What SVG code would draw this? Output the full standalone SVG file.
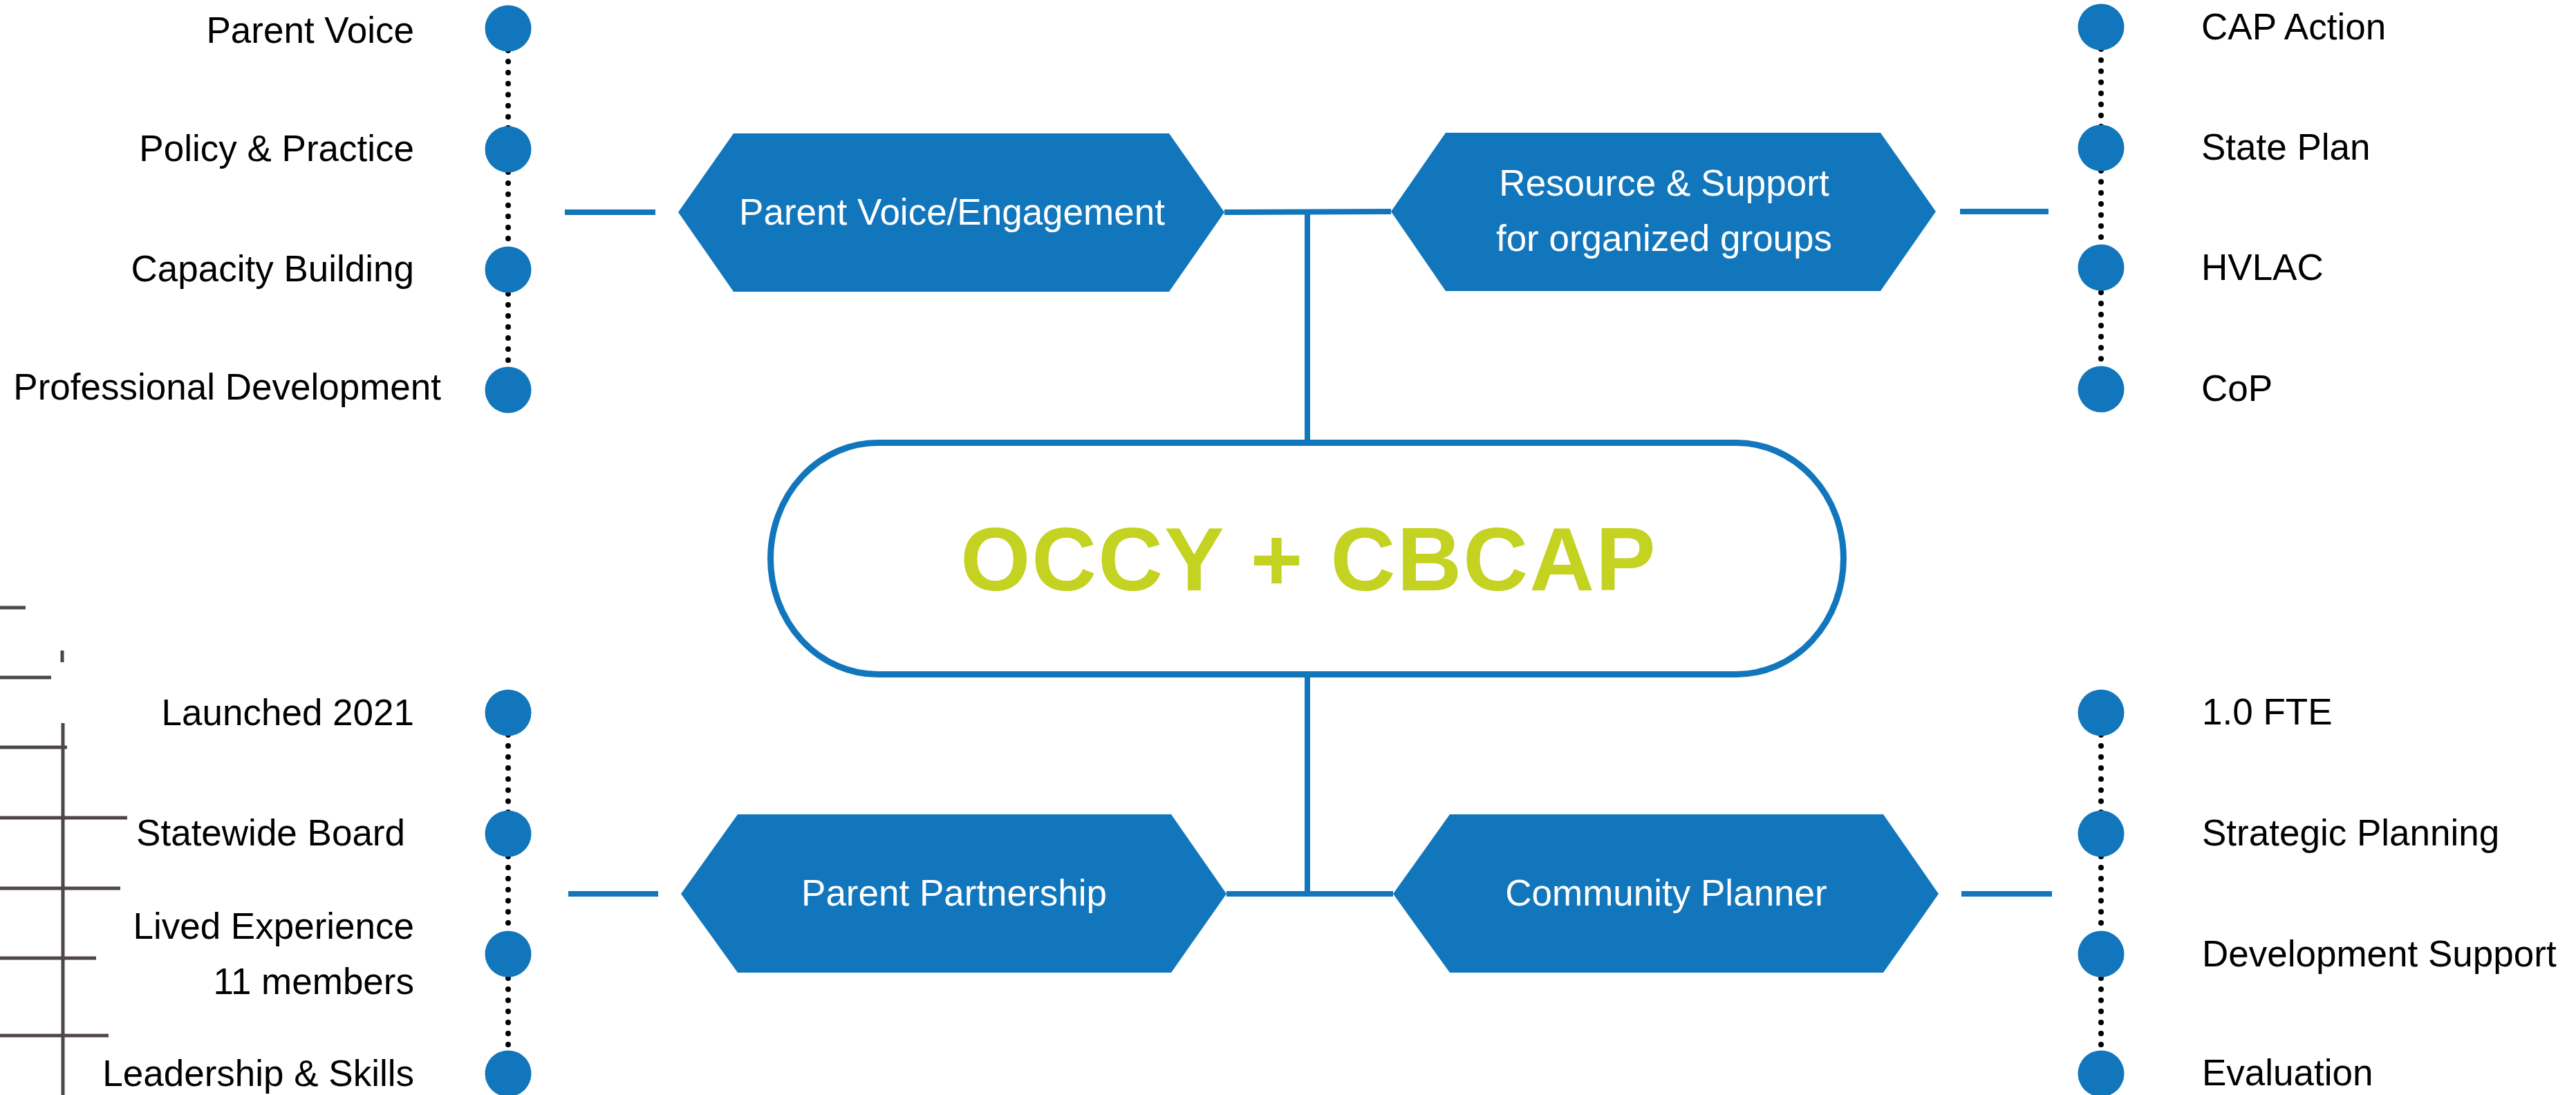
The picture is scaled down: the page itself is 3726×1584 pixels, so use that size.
<svg xmlns="http://www.w3.org/2000/svg" width="3726" height="1584" viewBox="0 0 3726 1584">
<style>
.lbl{font-family:"Liberation Sans",Arial,sans-serif;font-size:53px;fill:#000}
.hx{fill:#1176BC}
.hxt{font-family:"Liberation Sans",Arial,sans-serif;font-size:53px;fill:#fff;text-anchor:middle}
.dot{fill:#1176BC}
.dotline{stroke:#000;stroke-width:8;stroke-linecap:round;stroke-dasharray:0 16;fill:none}
.conn{stroke:#1176BC;stroke-width:8;fill:none}
.grey{stroke:#4E4647;stroke-width:5;fill:none}
</style>
<rect width="3726" height="1584" fill="#fff"/>

<g id="decor-lines">
<line class="grey" x1="0" y1="879" x2="37" y2="879"/>
<line class="grey" x1="0" y1="980" x2="74" y2="980"/>
<line class="grey" x1="90" y1="941" x2="90" y2="958"/>
<line class="grey" x1="0" y1="1081" x2="97" y2="1081"/>
<line class="grey" x1="0" y1="1183" x2="184" y2="1183"/>
<line class="grey" x1="0" y1="1285" x2="174" y2="1285"/>
<line class="grey" x1="0" y1="1386" x2="139" y2="1386"/>
<line class="grey" x1="0" y1="1498" x2="157" y2="1498"/>
<line class="grey" x1="91" y1="1046" x2="91" y2="1584"/>
</g>

<g id="connectors">
<line class="conn" x1="817" y1="307" x2="948" y2="307"/>
<line class="conn" x1="1771" y1="307" x2="2012" y2="306"/>
<line class="conn" x1="2835" y1="306" x2="2963" y2="306"/>
<line class="conn" x1="1891" y1="307" x2="1891" y2="637"/>
<line class="conn" x1="1891" y1="979" x2="1891" y2="1293"/>
<line class="conn" x1="822" y1="1293" x2="952" y2="1293"/>
<line class="conn" x1="1774" y1="1293" x2="2015" y2="1293"/>
<line class="conn" x1="2837" y1="1293" x2="2968" y2="1293"/>
<line class="dotline" x1="735" y1="41" x2="735" y2="564"/>
<line class="dotline" x1="3039" y1="39" x2="3039" y2="563"/>
<line class="dotline" x1="735" y1="1031" x2="735" y2="1553"/>
<line class="dotline" x1="3039" y1="1031" x2="3039" y2="1553"/>
</g>

<g id="center">
<rect x="1114.5" y="640.5" width="1552" height="335" rx="155" ry="167.5" fill="#fff" stroke="#1176BC" stroke-width="9"/>
<text x="1893" y="854" text-anchor="middle" font-family="'Liberation Sans',Arial,sans-serif" font-weight="bold" font-size="130" letter-spacing="2" fill="#C4D221">OCCY + CBCAP</text>
</g>

<g id="hex-parent-voice">
<polygon class="hx" points="981,307 1061,193 1691,193 1771,307 1691,422 1061,422"/>
<text class="hxt" x="1377" y="325">Parent Voice/Engagement</text>
</g>
<g id="hex-resource">
<polygon class="hx" points="2012,306 2091,192 2720,192 2800,306 2720,421 2091,421"/>
<text class="hxt" x="2407" y="283">Resource &amp; Support</text>
<text class="hxt" x="2407" y="363">for organized groups</text>
</g>
<g id="hex-parent-partnership">
<polygon class="hx" points="985,1293 1067,1178 1694,1178 1774,1293 1694,1407 1067,1407"/>
<text class="hxt" x="1380" y="1310">Parent Partnership</text>
</g>
<g id="hex-community">
<polygon class="hx" points="2015,1293 2097,1178 2724,1178 2804,1293 2724,1407 2097,1407"/>
<text class="hxt" x="2410" y="1310">Community Planner</text>
</g>

<g id="list-top-left">
<circle class="dot" cx="735" cy="41" r="33.5"/>
<circle class="dot" cx="735" cy="216" r="33.5"/>
<circle class="dot" cx="735" cy="390" r="33.5"/>
<circle class="dot" cx="735" cy="564" r="33.5"/>
<text class="lbl" x="599" y="62" text-anchor="end">Parent Voice</text>
<text class="lbl" x="599" y="233" text-anchor="end">Policy &amp; Practice</text>
<text class="lbl" x="599" y="407" text-anchor="end">Capacity Building</text>
<text class="lbl" x="638" y="578" text-anchor="end">Professional Development</text>
</g>

<g id="list-top-right">
<circle class="dot" cx="3039" cy="39" r="33.5"/>
<circle class="dot" cx="3039" cy="214" r="33.5"/>
<circle class="dot" cx="3039" cy="387" r="33.5"/>
<circle class="dot" cx="3039" cy="563" r="33.5"/>
<text class="lbl" x="3184" y="57">CAP Action</text>
<text class="lbl" x="3184" y="231">State Plan</text>
<text class="lbl" x="3184" y="405">HVLAC</text>
<text class="lbl" x="3184" y="580">CoP</text>
</g>

<g id="list-bottom-left">
<circle class="dot" cx="735" cy="1031" r="33.5"/>
<circle class="dot" cx="735" cy="1206" r="33.5"/>
<circle class="dot" cx="735" cy="1380" r="33.5"/>
<circle class="dot" cx="735" cy="1553" r="33.5"/>
<text class="lbl" x="599" y="1049" text-anchor="end">Launched 2021</text>
<text class="lbl" x="586" y="1223" text-anchor="end">Statewide Board</text>
<text class="lbl" x="599" y="1358" text-anchor="end">Lived Experience</text>
<text class="lbl" x="599" y="1438" text-anchor="end">11 members</text>
<text class="lbl" x="599" y="1571" text-anchor="end">Leadership &amp; Skills</text>
</g>

<g id="list-bottom-right">
<circle class="dot" cx="3039" cy="1031" r="33.5"/>
<circle class="dot" cx="3039" cy="1206" r="33.5"/>
<circle class="dot" cx="3039" cy="1380" r="33.5"/>
<circle class="dot" cx="3039" cy="1553" r="33.5"/>
<text class="lbl" x="3185" y="1048">1.0 FTE</text>
<text class="lbl" x="3185" y="1223">Strategic Planning</text>
<text class="lbl" x="3185" y="1398">Development Support</text>
<text class="lbl" x="3185" y="1570">Evaluation</text>
</g>
</svg>
